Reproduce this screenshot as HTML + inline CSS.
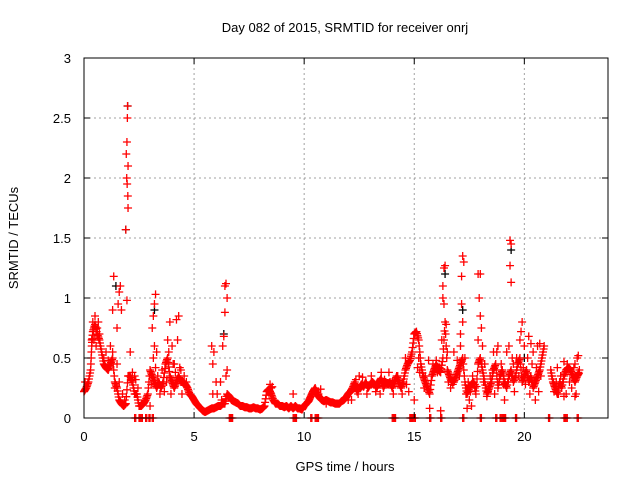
<!DOCTYPE html>
<html><head><meta charset="utf-8"><style>
body{margin:0;background:#fff;}
svg{display:block;font-family:"Liberation Sans",sans-serif;}
</style></head><body>
<svg id="chart" width="640" height="480" viewBox="0 0 640 480">
<rect width="640" height="480" fill="#fff"/>
<g id="grid"></g>
<g id="marks"></g>
<rect x="84" y="58" width="524" height="360" fill="none" stroke="#000" stroke-width="1"/>
<g id="axes"></g>
<text x="345" y="32" font-size="13" text-anchor="middle">Day 082 of 2015, SRMTID for receiver onrj</text>
<text x="345" y="471" font-size="13" text-anchor="middle">GPS time / hours</text>
<text transform="translate(18,238) rotate(-90)" font-size="13" text-anchor="middle">SRMTID / TECUs</text>
</svg>
<script>
const xTicks=[0,5,10,15,20];
const yTicks=[0,0.5,1,1.5,2,2.5,3];
const yTickLabels=["0","0.5","1","1.5","2","2.5","3"];
const mainTimes=[0,0.1,0.2,0.3,0.35,0.4,0.5,0.6,0.7,0.8,0.9,1.0,1.1,1.2,1.3,1.4,1.5,1.6,1.7,1.8,1.9,2.0,2.1,2.2,2.3,2.4,2.5,2.6,2.7,2.8,2.9,3.0,3.1,3.2,3.3,3.4,3.5,3.6,3.7,3.8,3.9,4.0,4.1,4.2,4.3,4.4,4.5,4.6,4.7,4.8,4.9,5.0,5.1,5.2,5.3,5.4,5.5,5.6,5.7,5.8,5.9,6.0,6.1,6.2,6.3,6.4,6.5,6.6,6.7,6.8,6.9,7.0,7.1,7.2,7.3,7.4,7.5,7.6,7.7,7.8,7.9,8.0,8.1,8.2,8.3,8.4,8.5,8.6,8.7,8.8,8.9,9.0,9.1,9.2,9.3,9.4,9.5,9.6,9.7,9.8,9.9,10.0,10.1,10.2,10.3,10.4,10.5,10.6,10.7,10.8,10.9,11.0,11.1,11.2,11.3,11.4,11.5,11.6,11.7,11.8,11.9,12.0,12.1,12.2,12.3,12.4,12.5,12.6,12.7,12.8,12.9,13.0,13.1,13.2,13.3,13.4,13.5,13.6,13.7,13.8,13.9,14.0,14.1,14.2,14.3,14.4,14.5,14.6,14.7,14.8,14.9,15.0,15.1,15.2,15.3,15.4,15.5,15.6,15.7,15.8,15.9,16.0,16.1,16.2,16.3,16.4,16.5,16.6,16.7,16.8,16.9,17.0,17.1,17.2,17.3,17.4,17.5,17.6,17.7,17.8,17.9,18.0,18.1,18.2,18.3,18.4,18.5,18.6,18.7,18.8,18.9,19.0,19.1,19.2,19.3,19.4,19.5,19.6,19.7,19.8,19.9,20.0,20.1,20.2,20.3,20.4,20.5,20.6,20.7,20.8,20.9,21.2,21.3,21.4,21.5,21.6,21.7,21.8,21.9,22.0,22.1,22.2,22.3,22.4,22.5];
const mainValues=[0.22,0.25,0.3,0.4,0.6,0.72,0.78,0.7,0.65,0.55,0.45,0.42,0.4,0.45,0.5,0.3,0.25,0.15,0.12,0.1,0.12,0.35,0.35,0.3,0.2,0.2,0.1,0.1,0.12,0.15,0.2,0.4,0.35,0.3,0.25,0.3,0.25,0.3,0.45,0.5,0.35,0.3,0.25,0.3,0.35,0.3,0.3,0.28,0.25,0.2,0.18,0.15,0.12,0.1,0.08,0.06,0.05,0.06,0.07,0.08,0.08,0.09,0.1,0.1,0.12,0.12,0.2,0.18,0.15,0.14,0.13,0.12,0.1,0.1,0.09,0.09,0.08,0.08,0.09,0.08,0.08,0.07,0.08,0.1,0.22,0.24,0.2,0.15,0.12,0.12,0.1,0.1,0.09,0.1,0.08,0.1,0.08,0.1,0.08,0.08,0.07,0.1,0.12,0.14,0.18,0.22,0.25,0.2,0.17,0.15,0.14,0.15,0.14,0.13,0.13,0.12,0.12,0.12,0.14,0.15,0.17,0.2,0.22,0.25,0.3,0.22,0.25,0.28,0.26,0.3,0.25,0.28,0.3,0.28,0.25,0.3,0.33,0.25,0.3,0.28,0.3,0.25,0.3,0.35,0.3,0.25,0.3,0.4,0.45,0.48,0.55,0.7,0.72,0.65,0.45,0.35,0.3,0.25,0.2,0.35,0.4,0.45,0.4,0.38,0.5,0.8,0.4,0.35,0.3,0.3,0.35,0.4,0.45,0.5,0.3,0.2,0.25,0.28,0.3,0.2,0.45,0.5,0.4,0.3,0.2,0.25,0.3,0.4,0.45,0.25,0.35,0.4,0.3,0.25,0.35,0.4,0.3,0.35,0.45,0.5,0.3,0.35,0.4,0.3,0.35,0.25,0.3,0.35,0.4,0.5,0.6,0.4,0.3,0.25,0.2,0.3,0.25,0.35,0.4,0.42,0.4,0.35,0.3,0.35,0.38,0.4];
const spreadTimes=[0.05,0.45,0.55,0.65,0.9,1.1,1.3,1.5,1.6,1.75,1.85,2.2,2.35,2.45,3.05,3.15,3.25,3.35,3.45,3.55,3.65,3.75,3.95,4.05,4.15,4.35,4.45,4.55,4.65,5.85,6.05,6.25,6.45,8.45,8.55,10.65,10.75,12.15,12.35,12.45,12.65,12.85,13.05,13.25,13.45,13.65,13.85,14.05,14.25,14.45,14.65,14.75,15.15,15.25,15.45,15.65,15.85,16.05,16.15,16.55,16.65,16.75,16.95,17.05,17.35,17.45,17.55,17.65,17.75,18.15,18.35,18.45,18.55,18.65,18.75,18.85,18.95,19.05,19.25,19.45,19.55,19.65,19.75,19.95,20.05,20.15,20.25,20.35,20.45,20.55,20.65,20.75,21.25,21.35,21.45,21.55,21.65,21.75,21.95,22.05,22.15,22.25,22.35,22.45];
const spreadValues=[0.3,0.65,0.6,0.8,0.5,0.48,0.55,0.45,0.3,0.2,0.15,0.38,0.32,0.25,0.28,0.5,0.42,0.35,0.2,0.4,0.22,0.3,0.2,0.45,0.38,0.42,0.2,0.35,0.3,0.2,0.2,0.15,0.35,0.28,0.26,0.2,0.24,0.15,0.32,0.2,0.34,0.2,0.35,0.22,0.2,0.32,0.38,0.2,0.35,0.2,0.28,0.22,0.42,0.38,0.25,0.48,0.45,0.38,0.42,0.3,0.25,0.28,0.48,0.35,0.2,0.3,0.22,0.35,0.28,0.3,0.22,0.35,0.4,0.2,0.55,0.3,0.45,0.28,0.3,0.5,0.22,0.5,0.35,0.42,0.28,0.5,0.2,0.45,0.3,0.42,0.22,0.35,0.35,0.22,0.3,0.2,0.35,0.3,0.45,0.3,0.25,0.42,0.2,0.38];
const spikeTimes=[0.4,0.5,0.6,0.35,0.7,1.0,1.2,1.3,1.35,1.5,1.6,1.65,1.55,1.7,1.4,1.95,1.97,1.98,1.92,1.94,1.96,1.99,2.0,1.9,2.0,1.95,2.1,2.3,3.15,3.2,3.25,3.1,3.2,3.3,3.0,3.8,3.9,3.85,4.0,4.2,4.3,4.25,4.1,4.4,5.8,5.9,6.0,5.85,6.3,6.35,6.4,6.45,6.5,6.4,6.5,6.2,8.5,9.5,12.5,13.5,14.6,14.8,15.2,15.3,15.5,15.0,15.9,16.0,16.3,16.35,16.4,16.3,16.35,16.45,16.25,16.5,16.8,17.1,17.15,17.2,17.25,17.15,17.2,17.1,17.3,17.5,17.6,17.9,18.0,17.95,18.0,18.05,17.9,18.1,18.2,18.6,18.8,19.2,19.35,19.4,19.35,19.4,19.3,19.5,19.8,19.9,19.85,20.0,20.2,20.3,20.4,20.6,20.7,21.5,21.8,22.0,22.3,22.4,22.45,22.3,21.9,21.8,20.5,19.1,18.3,17.4,15.7,16.2,14.0,12.0,11.0];
const spikeValues=[0.8,0.85,0.75,0.65,0.7,0.55,0.6,0.9,1.18,0.75,1.05,1.1,0.95,0.9,0.25,2.3,2.5,2.6,2.2,2.0,1.95,1.85,1.75,1.57,2.1,0.98,0.55,0.35,0.85,0.95,1.03,0.75,0.6,0.55,0.1,0.65,0.8,0.55,0.6,0.82,0.85,0.65,0.45,0.4,0.6,0.55,0.3,0.45,0.6,0.68,1.1,1.12,1.0,0.88,0.4,0.3,0.25,0.2,0.35,0.38,0.5,0.48,0.5,0.45,0.35,0.15,0.4,0.48,1.1,1.25,1.27,1.0,0.95,0.78,0.65,0.55,0.55,0.6,0.95,1.35,1.3,1.18,0.8,0.7,0.5,0.15,0.1,1.2,1.2,1.0,0.85,0.75,0.65,0.6,0.45,0.55,0.6,0.55,1.48,1.45,1.27,1.13,0.6,0.45,0.65,0.8,0.72,0.6,0.68,0.62,0.55,0.6,0.62,0.42,0.47,0.42,0.45,0.5,0.52,0.18,0.2,0.18,0.15,0.15,0.18,0.08,0.08,0.06,0.3,0.15,0.12];
const zeroTimes=[2.3,2.5,2.6,2.8,2.95,3.1,6.6,6.7,9.5,9.6,10.3,10.5,10.6,14.0,14.1,14.8,14.9,15.0,15.7,16.2,17.2,18.0,18.7,18.9,19.0,19.1,19.6,21.1,21.8,21.9,22.4];
const blackTimes=[1.98,1.9,1.45,3.2,6.35,16.4,17.2,19.4,20.0];
const blackValues=[2.6,1.57,1.1,0.9,0.7,1.2,0.9,1.4,0.5];

const X0=84,X1=608,Y0=418,Y1=58,XMAX=23.8,YMAX=3;
const sx=v=>X0+v/XMAX*(X1-X0);
const sy=v=>Y0-v/YMAX*(Y0-Y1);
const NS="http://www.w3.org/2000/svg";
const grid=document.getElementById('grid'),axes=document.getElementById('axes'),marks=document.getElementById('marks');
function mk(tag,attrs,parent){const e=document.createElementNS(NS,tag);for(const k in attrs)e.setAttribute(k,attrs[k]);parent.appendChild(e);return e;}
xTicks.forEach(t=>{
  const x=sx(t);
  if(t>0){const g=mk('line',{x1:x,x2:x,y1:Y1,y2:Y0,stroke:'#a0a0a0','stroke-dasharray':'2,3','stroke-width':1},grid);
  
  }
  const tk=mk('path',{d:`M${x},${Y0}v-6M${x},${Y1}v6`,stroke:'#000'},axes);
  
  
  const lb=mk('text',{x:x,y:Y0+23,'font-size':13,'text-anchor':'middle'},axes);lb.textContent=t;
  
  
});
yTicks.forEach((t,i)=>{
  const y=sy(t);
  if(t>0&&t<YMAX){const g=mk('line',{x1:X0,x2:X1,y1:y,y2:y,stroke:'#a0a0a0','stroke-dasharray':'2,3','stroke-width':1},grid);
  
  }
  const tk=mk('path',{d:`M${X0},${y}h6M${X1},${y}h-6`,stroke:'#000'},axes);
  
  
  const lb=mk('text',{x:X0-13,y:y+5,'font-size':13,'text-anchor':'end'},axes);lb.textContent=yTickLabels[i];
  
  
});
function plus(t,v,color){
  const x=sx(t),y=sy(v);
  const p=mk('path',{d:`M${x-4},${y}h8M${x},${y-4}v8`,stroke:color,'stroke-width':1.3,fill:'none'},marks);
  
  
}
blackTimes.forEach((t,i)=>plus(t,blackValues[i],'#000'));
for(let i=0;i<mainTimes.length-1;i++){
  const t0=mainTimes[i],t1=mainTimes[i+1],v0=mainValues[i],v1=mainValues[i+1];
  if(t1-t0>0.2){plus(t0,v0,'#f00');continue;}
  for(let k=0;k<4;k++){const f=k/4;plus(t0+(t1-t0)*f,v0+(v1-v0)*f,'#f00');}
}
plus(mainTimes[mainTimes.length-1],mainValues[mainValues.length-1],'#f00');
spreadTimes.forEach((t,i)=>plus(t,spreadValues[i],'#f00'));
spikeTimes.forEach((t,i)=>plus(t,spikeValues[i],'#f00'));
zeroTimes.forEach(t=>{plus(t,0,'#f00');plus(t+0.05,0,'#f00');});
</script>
</body></html>
